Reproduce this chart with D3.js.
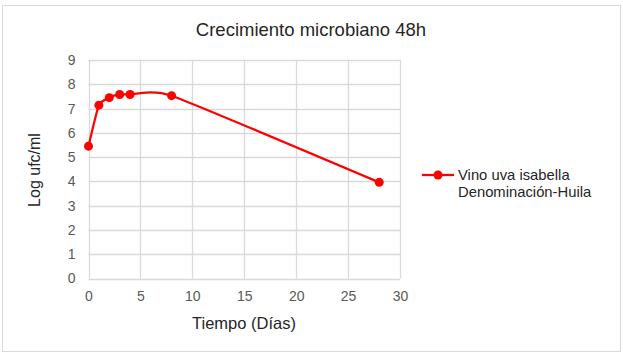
<!DOCTYPE html>
<html><head><meta charset="utf-8">
<script src="https://cdn.jsdelivr.net/npm/d3@7"></script>
<style>body{margin:0;background:#fff;}text{font-family:Arial,"Liberation Sans",sans-serif;}</style>
</head><body>
<svg id="c" width="623" height="356"></svg>
<script>
const days = [0, 1, 2, 3, 4, 8, 28];
const logUfc = [5.45, 7.14, 7.45, 7.58, 7.58, 7.53, 3.96];
const xTicks = [0, 5, 10, 15, 20, 25, 30];
const yTicks = [0, 1, 2, 3, 4, 5, 6, 7, 8, 9];
const seriesName = ["Vino uva isabella", "Denominación-Huila"];
const title = "Crecimiento microbiano 48h";
const xTitle = "Tiempo (Días)";
const yTitle = "Log ufc/ml";

const svg = d3.select("#c");
svg.append("rect").attr("x",2.5).attr("y",5.5).attr("width",618).attr("height",346)
  .attr("fill","#fff").attr("stroke","#d9d9d9");

const x = d3.scaleLinear().domain([0,30]).range([88.5,400]);
const y = d3.scaleLinear().domain([0,9]).range([278.5,60]);

const g = svg.append("g");
g.selectAll(".hg").data(yTicks).join("line")
  .attr("x1",x(0)).attr("x2",x(30)).attr("y1",d=>Math.round(y(d))+0.5).attr("y2",d=>Math.round(y(d))+0.5)
  .attr("stroke","#d9d9d9").attr("stroke-width",1.3);
g.selectAll(".vg").data(xTicks).join("line")
  .attr("y1",y(0)).attr("y2",y(9)).attr("x1",d=>Math.round(x(d))+0.5).attr("x2",d=>Math.round(x(d))+0.5)
  .attr("stroke","#d9d9d9").attr("stroke-width",1.3);

const xAxis = svg.append("g").attr("transform",`translate(0,${y(0)})`)
  .call(d3.axisBottom(x).tickValues(xTicks).tickSize(0).tickPadding(13));
const yAxis = svg.append("g").attr("transform",`translate(${x(0)},0)`)
  .call(d3.axisLeft(y).tickValues(yTicks).tickSize(0).tickPadding(13));
[xAxis,yAxis].forEach(a=>{
  a.select(".domain").remove();
  a.selectAll("text").attr("fill","#595959").style("font-size","14px").style("font-family","Arial, 'Liberation Sans', sans-serif");
});

const pts = days.map((d,i)=>[d,logUfc[i]]);
const line = d3.line().x(d=>x(d[0])).y(d=>y(d[1])).curve(d3.curveCardinal.tension(0.5));
svg.append("path").attr("d",line(pts)).attr("fill","none").attr("stroke","#ff0000").attr("stroke-width",2.25);
svg.selectAll(".pt").data(pts).join("circle")
  .attr("cx",d=>x(d[0])).attr("cy",d=>y(d[1])).attr("r",4.5).attr("fill","#ff0000");

svg.append("text").attr("x",311).attr("y",36).attr("text-anchor","middle")
  .style("font-size","18.5px").attr("fill","#262626").text(title);
svg.append("text").attr("x",244).attr("y",329).attr("text-anchor","middle")
  .style("font-size","16.5px").attr("fill","#262626").text(xTitle);
svg.append("text").attr("transform","translate(40,170) rotate(-90)").attr("text-anchor","middle")
  .style("font-size","16px").attr("fill","#262626").text(yTitle);

// legend
const lg = svg.append("g");
lg.append("line").attr("x1",422).attr("x2",454).attr("y1",175).attr("y2",175).attr("stroke","#ff0000").attr("stroke-width",2.25);
lg.append("circle").attr("cx",438).attr("cy",175).attr("r",4.5).attr("fill","#ff0000");
lg.selectAll("text").data(seriesName).join("text")
  .attr("x",458).attr("y",(d,i)=>180+i*17).style("font-size","14.8px").attr("fill","#262626").text(d=>d);
</script>
</body></html>
